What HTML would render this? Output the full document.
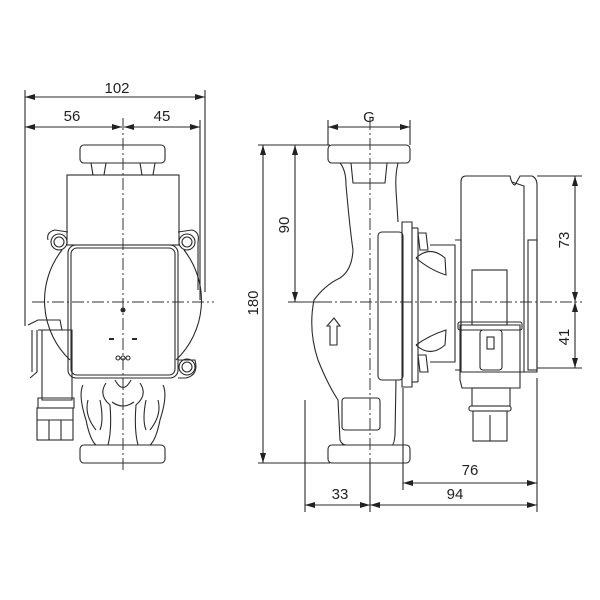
<!DOCTYPE html>
<html><head><meta charset="utf-8"><style>
html,body{margin:0;padding:0;background:#fff;}
svg{display:block}
text{font-family:"Liberation Sans",sans-serif;font-size:15px;fill:#222}
</style></head><body>
<svg width="600" height="600" viewBox="0 0 600 600" xmlns="http://www.w3.org/2000/svg">
<defs>
<marker id="a" viewBox="0 0 10 6" refX="10" refY="3" markerWidth="10" markerHeight="6" orient="auto-start-reverse" markerUnits="userSpaceOnUse"><path d="M0,0 L10,3 L0,6 z" fill="#222"/></marker>
</defs>
<g fill="none" stroke="#2a2a2a" stroke-width="1.1">
<!-- LEFT VIEW dimensions -->
<line x1="25" y1="90" x2="25" y2="326"/>
<line x1="205" y1="90" x2="205" y2="292"/>
<line x1="200" y1="120" x2="200" y2="300"/>
<line x1="25" y1="97" x2="205" y2="97" marker-start="url(#a)" marker-end="url(#a)"/>
<line x1="25" y1="127" x2="122" y2="127" marker-start="url(#a)" marker-end="url(#a)"/>
<line x1="124" y1="127" x2="200" y2="127" marker-start="url(#a)" marker-end="url(#a)"/>
<!-- top flange -->
<rect x="80" y="145" width="85" height="18" rx="4"/>
<path d="M91,163 L93,175 M106,163 L104,175 M140,163 L142,175 M155,163 L153,175"/>
<!-- motor upper box -->
<rect x="67" y="175" width="112" height="70"/>
<!-- big circle -->
<path d="M62,250 A82,82 0 0 0 70,360 M184,250 A82,82 0 0 1 176,360"/>
<path d="M48,240 Q46,232 55,230 L68,232 M178,232 L192,230 Q200,232 198,242 L198,290"/>
<circle cx="59" cy="242" r="8"/><circle cx="59" cy="242" r="5"/>
<circle cx="187" cy="242" r="8"/><circle cx="187" cy="242" r="5"/>
<circle cx="187" cy="367" r="8"/><circle cx="187" cy="367" r="5"/>
<path d="M178,360 L195,360 Q199,375 186,378 L178,378"/>
<!-- front box -->
<rect x="68" y="245" width="110" height="133" rx="8"/>
<rect x="71" y="248" width="104" height="127" rx="6"/>
<circle cx="123" cy="310" r="2" fill="#222"/>
<line x1="109" y1="339" x2="114" y2="339" stroke-width="2"/>
<line x1="132" y1="339" x2="137" y2="339" stroke-width="2"/>
<circle cx="118" cy="358" r="2"/><circle cx="123" cy="358" r="2"/><circle cx="128" cy="358" r="2"/>
<!-- connector left -->
<path d="M28,325 L38,320 L60,320 L62,330 M32,330 L32,372 M37,330 L37,372 L30,378"/>
<path d="M38,330 L72,330 L72,400 L42,400 L42,330"/>
<path d="M38,398 L74,398 L74,408 L38,408 Z"/>
<rect x="37" y="408" width="36" height="32"/>
<path d="M49,420 L49,440 M61,420 L61,440 M37,420 L73,420"/>
<!-- lower volute -->
<path d="M83,385 Q78,395 86,420 Q90,440 96,445 M106,383 Q98,395 110,405 Q112,430 108,445 M140,383 Q148,395 136,405 Q134,430 138,445 M163,385 Q168,395 160,420 Q156,440 150,445"/>
<path d="M88,400 Q84,415 96,430 M100,400 Q104,420 100,430 M146,400 Q142,420 146,430 M158,400 Q162,415 150,430"/>
<path d="M115,380 Q123,395 131,380 M112,402 Q123,410 134,402"/>
<path d="M96,445 L150,445"/>
<rect x="80" y="445" width="85" height="18" rx="4"/>
<!-- RIGHT VIEW dimensions -->
<line x1="258" y1="145" x2="330" y2="145"/>
<line x1="258" y1="463" x2="330" y2="463"/>
<line x1="288" y1="302" x2="330" y2="302"/>
<line x1="263" y1="145" x2="263" y2="463" marker-start="url(#a)" marker-end="url(#a)"/>
<line x1="295" y1="145" x2="295" y2="302" marker-start="url(#a)" marker-end="url(#a)"/>
<line x1="328" y1="120" x2="328" y2="145"/>
<line x1="410" y1="120" x2="410" y2="145"/>
<line x1="328" y1="127" x2="410" y2="127" marker-start="url(#a)" marker-end="url(#a)"/>
<line x1="537" y1="176" x2="582" y2="176"/>
<line x1="537" y1="368" x2="582" y2="368"/>
<line x1="575" y1="176" x2="575" y2="302" marker-start="url(#a)" marker-end="url(#a)"/>
<line x1="575" y1="302" x2="575" y2="368" marker-start="url(#a)" marker-end="url(#a)"/>
<line x1="305" y1="400" x2="305" y2="512"/>
<line x1="370" y1="463" x2="370" y2="512"/>
<line x1="403" y1="388" x2="403" y2="490"/>
<line x1="537" y1="378" x2="537" y2="512"/>
<line x1="403" y1="483" x2="537" y2="483" marker-start="url(#a)" marker-end="url(#a)"/>
<line x1="305" y1="505" x2="370" y2="505" marker-start="url(#a)" marker-end="url(#a)"/>
<line x1="370" y1="505" x2="537" y2="505" marker-start="url(#a)" marker-end="url(#a)"/>
<!-- flanges -->
<rect x="328" y="145" width="82" height="18" rx="4"/>
<rect x="328" y="445" width="82" height="18" rx="4"/>
<!-- body -->
<path d="M340,163 Q346,170 346,185 Q350,230 353,250 Q352,270 340,278 Q325,285 314,300 Q308,330 318,360 Q328,385 338,400 L340,440 Q342,445 346,445"/>
<path d="M398,163 Q395,175 396,190 L398,222"/>
<path d="M396,380 L395,435 Q394,445 392,445"/>
<path d="M351,163 L353,183 L385,183 L387,163"/>
<rect x="342" y="398" width="38" height="32" rx="3"/>
<path d="M327,326 L334,318 L340,326 L337,326 L337,345 L330,345 L330,326 Z"/>
<!-- flange plate & inner -->
<path d="M402,222 L412,222 L412,387 L402,387 Z"/>
<rect x="378" y="232" width="25" height="148" rx="4"/>
<line x1="412" y1="228" x2="418" y2="228"/><line x1="418" y1="228" x2="418" y2="382"/><line x1="412" y1="382" x2="418" y2="382"/>
<!-- ribs -->
<path d="M418,233 L426,233 L428,250 L420,250 Z M418,355 L426,355 L428,372 L420,372 Z"/>
<path d="M416,258 Q430,245 445,258 L446,275 Q430,270 416,258 M416,345 Q430,358 445,345 L446,330 Q430,335 416,345"/>
<path d="M430,245 L455,245 L455,362 L430,362"/>
<path d="M455,240 L461,240 L461,370 L455,370"/>
<!-- motor housing -->
<path d="M466,176 L510,176 Q512,185 515,185 L520,176 L532,176 Q537,178 537,185 L537,372 L461,372 L461,182 Q461,176 466,176 Z"/>
<path d="M512,182 L524,186 L524,372"/>
<rect x="528" y="240" width="9" height="130"/>
<rect x="472" y="270" width="35" height="55"/>
<!-- terminal box -->
<path d="M460,325 L520,325 L520,388 L462,388 L460,380 Z"/>
<rect x="458" y="322" width="64" height="8" rx="2"/>
<rect x="480" y="330" width="22" height="40" rx="3"/>
<rect x="487" y="337" width="7" height="12"/>
<rect x="472" y="388" width="38" height="18"/>
<rect x="469" y="406" width="42" height="5" rx="2"/>
<rect x="473" y="411" width="34" height="30"/>
<line x1="490" y1="415" x2="490" y2="441"/>
</g>
<!-- center lines -->
<g stroke="#333" stroke-width="1" stroke-dasharray="12,3,2,3" fill="none">
<line x1="123" y1="118" x2="123" y2="470"/>
<line x1="32" y1="302" x2="214" y2="302"/>
<line x1="370" y1="118" x2="370" y2="470"/>
<line x1="300" y1="302" x2="582" y2="302"/>
</g>
<text x="117" y="93" text-anchor="middle">102</text>
<text x="72" y="121" text-anchor="middle">56</text>
<text x="162" y="121" text-anchor="middle">45</text>
<text x="369" y="122" text-anchor="middle">G</text>
<text transform="translate(258,303) rotate(-90)" text-anchor="middle">180</text>
<text transform="translate(289,225) rotate(-90)" text-anchor="middle">90</text>
<text transform="translate(569,240) rotate(-90)" text-anchor="middle">73</text>
<text transform="translate(569,337) rotate(-90)" text-anchor="middle">41</text>
<text x="470" y="475" text-anchor="middle">76</text>
<text x="455" y="499" text-anchor="middle">94</text>
<text x="340" y="499" text-anchor="middle">33</text>
</svg>
</body></html>
